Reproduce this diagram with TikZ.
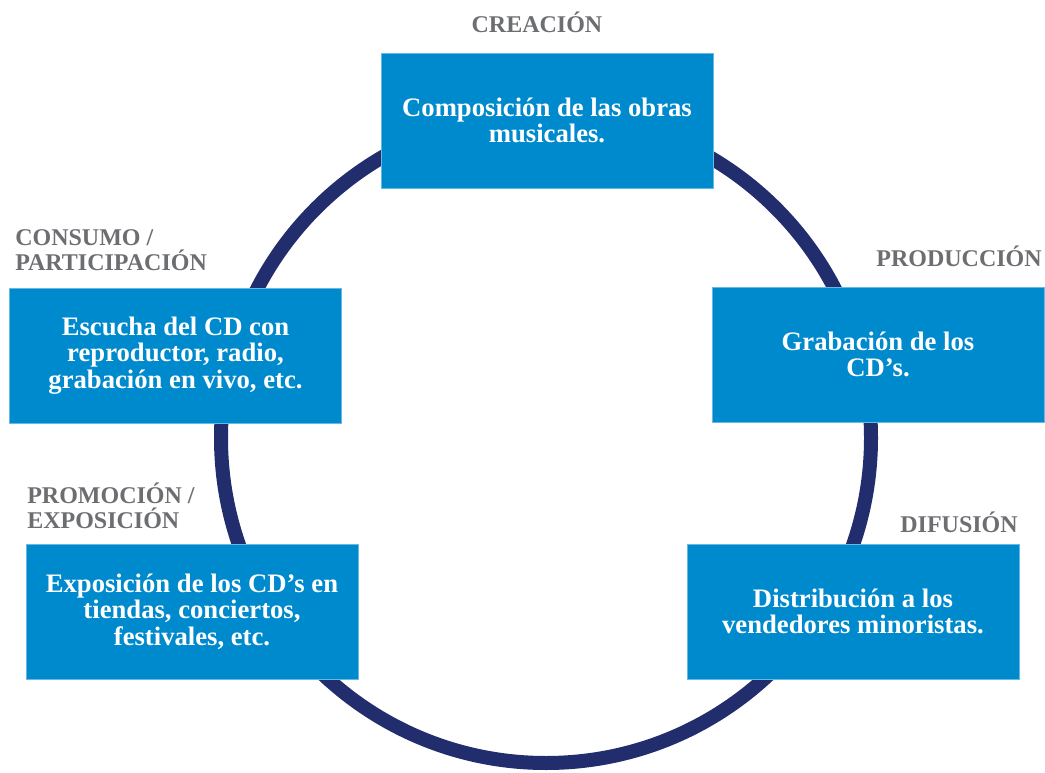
\documentclass[tikz,border=0pt]{standalone}
\usepackage{fontspec}
\setmainfont{Liberation Serif}
\definecolor{boxblue}{RGB}{0,138,206}
\definecolor{ringblue}{RGB}{34,45,110}
\definecolor{labelgray}{RGB}{109,110,113}
\begin{document}
\begin{tikzpicture}[x=0.75pt,y=-0.75pt,
  box/.style={rectangle, fill=boxblue, draw=boxblue!60!white, line width=0.6pt,
    minimum width=249pt, minimum height=101.25pt, inner sep=0pt, align=center,
    text=white, font=\bfseries\fontsize{20}{20}\selectfont},
  stage/.style={inner sep=0pt, text=labelgray, font=\bfseries\fontsize{18}{18.75}\selectfont},
  ring/.style={draw=ringblue, line width=10.5pt}]
\useasboundingbox (0,0) rectangle (1045,773);
\coordinate (c) at (546,438);
\draw[ring] (c) circle[radius=243.75pt];
\node[box] (creacion) at (547,120.5) {Composición de las obras\\musicales.};
\node[box] (produccion) at (878,354.5) {Grabación de los\\CD’s.};
\node[box] (difusion) at (853,611.5) {Distribución a los\\vendedores minoristas.};
\node[box] (promocion) at (192,611.5) {Exposición de los CD’s en\\tiendas, conciertos,\\festivales, etc.};
\node[box] (consumo) at (175.5,355.5) {Escucha del CD con\\reproductor, radio,\\grabación en vivo, etc.};
\node[stage, anchor=base] (lcreacion) at (537,33) {CREACIÓN};
\node[stage, anchor=base east] (lproduccion) at (1042,267) {PRODUCCIÓN};
\node[stage, anchor=base east] (ldifusion) at (1018,532) {DIFUSIÓN};
\node[stage, anchor=base west, align=left] (lpromocion) at (27,528) {PROMOCIÓN /\\EXPOSICIÓN};
\node[stage, anchor=base west, align=left] (lconsumo) at (15,271) {CONSUMO /\\PARTICIPACIÓN};
\end{tikzpicture}
\end{document}
